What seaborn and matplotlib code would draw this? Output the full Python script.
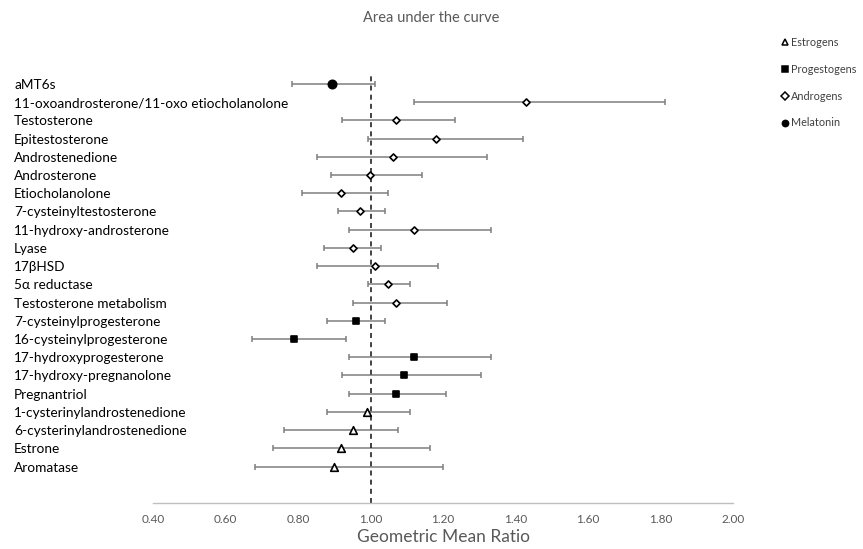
import numpy as np
import pandas as pd
import seaborn as sns
import matplotlib.pyplot as plt
from matplotlib.lines import Line2D

# forest plot of geometric mean ratios (AUC)

labels = ['aMT6s', '11-oxoandrosterone/11-oxo etiocholanolone', 'Testosterone',
          'Epitestosterone', 'Androstenedione', 'Androsterone', 'Etiocholanolone',
          '7-cysteinyltestosterone', '11-hydroxy-androsterone', 'Lyase', '17βHSD',
          '5α reductase', 'Testosterone metabolism', '7-cysteinylprogesterone',
          '16-cysteinylprogesterone', '17-hydroxyprogesterone', '17-hydroxy-pregnanolone',
          'Pregnantriol', '1-cysterinylandrostenedione', '6-cysterinylandrostenedione',
          'Estrone', 'Aromatase']
groups = ['Melatonin'] + ['Androgens'] * 12 + ['Progestogens'] * 5 + ['Estrogens'] * 4
gmr = [0.893, 1.430, 1.070, 1.181, 1.062, 0.999, 0.919, 0.971, 1.121, 0.951, 1.012,
       1.049, 1.070, 0.960, 0.790, 1.121, 1.091, 1.070, 0.990, 0.951, 0.919, 0.899]
lower = [0.783, 1.121, 0.920, 0.993, 0.851, 0.891, 0.810, 0.911, 0.941, 0.872, 0.851,
         0.993, 0.951, 0.881, 0.672, 0.941, 0.921, 0.941, 0.881, 0.760, 0.730, 0.682]
upper = [1.013, 1.811, 1.234, 1.421, 1.322, 1.142, 1.049, 1.040, 1.333, 1.028, 1.185,
         1.110, 1.211, 1.039, 0.932, 1.333, 1.306, 1.208, 1.109, 1.077, 1.165, 1.200]

legend_order = ['Estrogens', 'Progestogens', 'Androgens', 'Melatonin']
marker_map = {'Estrogens': '^', 'Progestogens': 's', 'Androgens': 'D', 'Melatonin': 'o'}
face_map = {'Estrogens': 'white', 'Progestogens': 'black', 'Androgens': 'white', 'Melatonin': 'black'}
size_map = {'Estrogens': 30, 'Progestogens': 20, 'Androgens': 13, 'Melatonin': 36}

df = pd.DataFrame({'label': labels, 'group': groups, 'gmr': gmr,
                   'lower': lower, 'upper': upper})
df['pos'] = np.arange(len(df))

sns.set_style('white')
plt.rcParams['font.family'] = ['Lato', 'DejaVu Sans']

fig = plt.figure(figsize=(8.63, 5.49), dpi=100)
ax = fig.add_axes([0.1773, 0.0838, 0.6721, 0.7832])

grey = '#595959'

ax.errorbar(df['gmr'], df['pos'],
            xerr=[df['gmr'] - df['lower'], df['upper'] - df['gmr']],
            fmt='none', ecolor='#7f7f7f', elinewidth=1.1, capsize=2.5,
            capthick=1.1, zorder=1)

for g in legend_order:
    sub = df[df['group'] == g]
    sns.scatterplot(data=sub, x='gmr', y='pos', ax=ax, marker=marker_map[g],
                    color=face_map[g], edgecolor='black', linewidth=1.2,
                    s=size_map[g], zorder=3, legend=False)

ax.axvline(1.0, color='#222222', linestyle=(0, (3, 2.5)), linewidth=1.2, zorder=2)

ax.set_xlim(0.4, 2.0)
ax.set_ylim(23.0, -0.6)
ax.set_xticks(np.arange(0.4, 2.01, 0.2))
ax.set_xticklabels([f'{v:.2f}' for v in np.arange(0.4, 2.01, 0.2)], color=grey, fontsize=8.5)
ax.set_yticks(df['pos'])
ax.set_yticklabels(df['label'], fontsize=9.8, ha='left', color='black')
ax.tick_params(axis='y', length=0, pad=100)
ax.tick_params(axis='x', direction='in', length=3, color='#bfbfbf', pad=8)

for side in ['top', 'right', 'left']:
    ax.spines[side].set_visible(False)
ax.spines['bottom'].set_color('#bfbfbf')
ax.spines['bottom'].set_linewidth(1.0)

ax.set_xlabel('Geometric Mean Ratio', fontsize=12.5, color=grey, labelpad=3)
ax.set_ylabel('')
fig.text(0.5, 0.968, 'Area under the curve', ha='center', va='center', fontsize=10.5, color=grey)

handles = [Line2D([], [], linestyle='none', marker=marker_map[g], markerfacecolor=face_map[g],
                  markeredgecolor='black', markeredgewidth=1.1, markersize=4.5)
           for g in legend_order]
fig.legend(handles, legend_order, loc='upper left', bbox_to_anchor=(0.9, 0.94),
           frameon=False, fontsize=7.8, labelcolor='#404040', labelspacing=1.45,
           handletextpad=0.1, handlelength=0.8, borderaxespad=0)

plt.savefig('out.png', dpi=100)
